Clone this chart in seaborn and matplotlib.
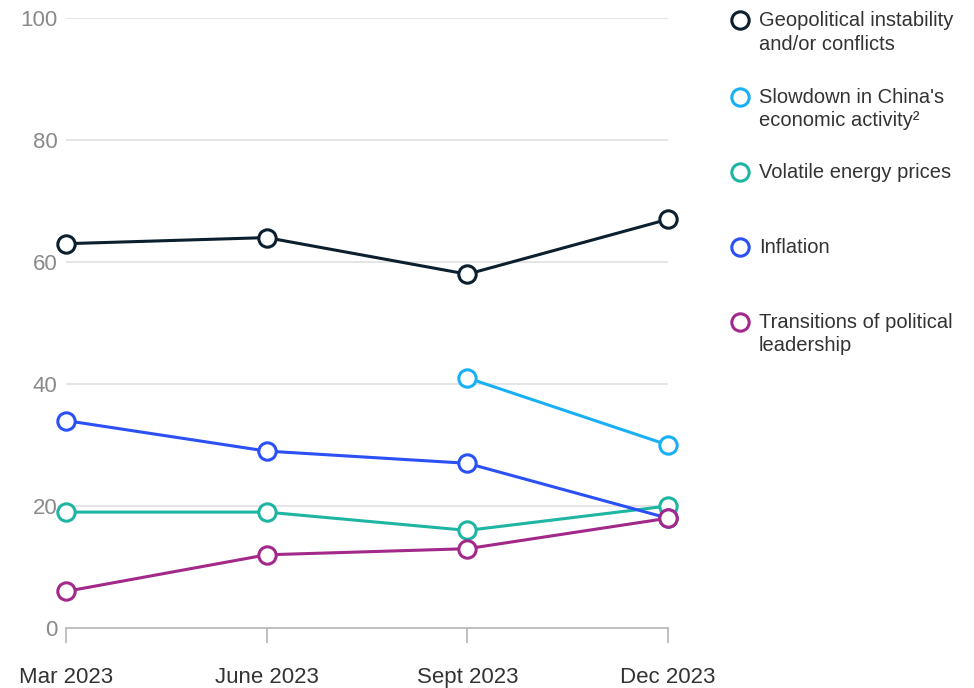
import numpy as np
import pandas as pd
import matplotlib
matplotlib.use("Agg")
import matplotlib.pyplot as plt
from matplotlib.lines import Line2D
import seaborn as sns

# Chart data
periods = ["Mar 2023", "June 2023", "Sept 2023", "Dec 2023"]
geopolitical = [63, 64, 58, 67]
china_slowdown = [np.nan, np.nan, 41, 30]
energy_prices = [19, 19, 16, 20]
inflation = [34, 29, 27, 18]
political_transitions = [6, 12, 13, 18]

series_names = [
    "Geopolitical instability\nand/or conflicts",
    "Slowdown in China's\neconomic activity²",
    "Volatile energy prices",
    "Inflation",
    "Transitions of political\nleadership",
]
series_values = [geopolitical, china_slowdown, energy_prices, inflation, political_transitions]
colors = ["#0b1f2e", "#1ab0f5", "#1fb5a3", "#2b50f5", "#a2288a"]
y_ticks = [0, 20, 40, 60, 80, 100]

sns.set_style("white")
plt.rcParams["font.family"] = ["Liberation Sans", "DejaVu Sans"]

fig = plt.figure(figsize=(9.74, 6.88), dpi=100)
ax = fig.add_axes([66 / 974, 60 / 688, 602 / 974, 610 / 688])

for y in y_ticks[1:]:
    ax.axhline(y, color="#e3e3e3", lw=1.3, zorder=0)

# one call per series so each marker edge keeps its line colour
for name, vals, col in zip(series_names, series_values, colors):
    df = pd.DataFrame({"period": range(len(periods)), "value": vals}).dropna()
    sns.lineplot(
        data=df, x="period", y="value", color=col, marker="o", markersize=12.5,
        markerfacecolor="white", markeredgecolor=col, markeredgewidth=2.2,
        linewidth=2.2, ax=ax, clip_on=False,
    )

ax.set_xlim(0, 3)
ax.set_ylim(0, 100)
ax.set_xticks(range(len(periods)))
ax.set_xticklabels(periods, fontsize=16, color="#333333")
ax.set_yticks(y_ticks)
ax.set_yticklabels([str(t) for t in y_ticks], fontsize=16, color="#8a8a8a")
ax.tick_params(axis="y", left=False, length=0, pad=6)
ax.tick_params(axis="x", bottom=True, length=11, width=1.2, color="#b5b5b5", pad=17)
ax.set_xlabel("")
ax.set_ylabel("")
for side in ["top", "right", "left"]:
    ax.spines[side].set_visible(False)
ax.spines["bottom"].set_color("#b5b5b5")
ax.spines["bottom"].set_linewidth(1.2)

# Legend on the right
legend_y = [20, 97, 172, 247, 322]
for name, col, ypx in zip(series_names, colors, legend_y):
    yf = 1 - ypx / 688
    fig.add_artist(Line2D([740 / 974], [yf], transform=fig.transFigure,
                          marker="o", markersize=12.5, markerfacecolor="white",
                          markeredgecolor=col, markeredgewidth=2.2, linestyle=""))
    fig.text(759 / 974, yf + 9 / 688, name, fontsize=14.5, color="#333333",
             va="top", ha="left", linespacing=1.3)

fig.savefig("out.png", dpi=100)
